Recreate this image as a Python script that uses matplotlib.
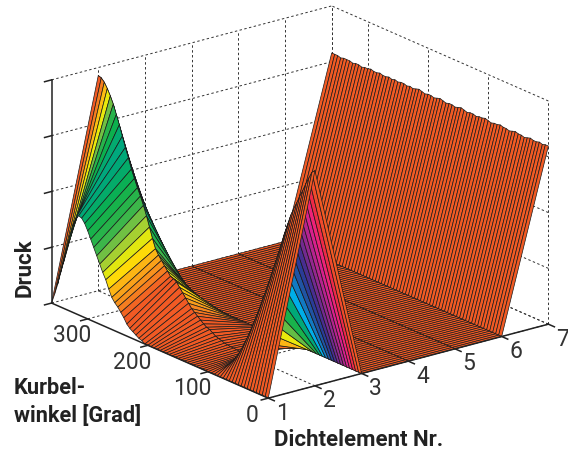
import matplotlib
matplotlib.use('Agg')
import matplotlib.pyplot as plt
from matplotlib.colors import LinearSegmentedColormap
from mpl_toolkits.mplot3d import proj3d
import numpy as np

# crank angle every 5 degrees, 0..360
angles = list(range(0, 365, 5))

# pressure at seal element 1
p1 = [0]*42 + [2, 3, 5, 7, 9, 12, 17, 21, 25, 28, 32, 39, 47, 53, 60, 67, 74, 81, 88, 94,
               98, 99, 95, 86, 74, 60, 46, 34, 21, 10, 0]

# pressure at seal element 2
p2 = [215, 212, 205, 198, 190, 183, 175, 168, 160, 150, 140, 128, 114, 98, 80, 62, 46, 32, 19, 12,
      8, 5, 3, 2, 1.5, 1.5, 1.5, 2, 2, 2.5, 3, 4, 5, 6, 8, 10, 11, 13, 15.5, 18,
      20.5, 23, 27, 31, 35, 39, 43, 45, 46, 50, 54, 58, 62, 67, 76, 86, 96, 105, 113, 120,
      128, 136, 146, 155, 165, 175, 184, 193, 200, 206, 211, 214, 215]

# pressure at seal element 7 (nearly constant)
p7 = [178, 178, 177, 178, 177, 177, 178, 177, 176, 177, 177, 178, 177, 176, 177, 177, 178, 177, 177, 176,
      177, 178, 177, 177, 176, 177, 177, 176, 177, 178, 177, 176, 177, 177, 176, 177, 178, 177, 176, 177,
      177, 176, 177, 178, 177, 176, 177, 176, 177, 177, 176, 177, 176, 177, 176, 176, 177, 176, 176, 177,
      176, 176, 175, 176, 176, 175, 176, 176, 176, 175, 176, 176, 176]
zero = [0]*73

elements = [1, 2, 3, 4, 5, 6, 7]
x_ticks = [1, 2, 3, 4, 5, 6, 7]
y_ticks = [0, 100, 200, 300]
z_ticks = [0, 55.75, 111.5, 167.25, 223]
x_labels = ['1', '2', '3', '4', '5', '6', '7']
y_labels = ['0', '100', '200', '300']

stops = [0, 15, 25, 33, 43, 56, 67, 85, 98, 115, 135, 155, 175, 195, 208, 215]
palette = ['#F15A24', '#F15A24', '#F7941D', '#FDB913', '#FFF200', '#8DC63F', '#39B54A', '#0DB14B', '#00A878',
           '#00AEEF', '#1C5FAA', '#2E3192', '#92278F', '#EC1E8C', '#EF2D3A', '#F15A24']

plt.rcParams['font.family'] = ['Roboto', 'DejaVu Sans']

ymax = 360
zmax = 223

fig = plt.figure(figsize=(5.68, 4.6), dpi=100)
ax = fig.add_subplot(projection='3d', computed_zorder=False, proj_type='ortho')
ax.set_position([8.3/568, -34.7/460, 1.0, 568/460])
ax.view_init(elev=19.9, azim=-127.8)
ax.set_box_aspect((354, 353, 237), zoom=0.947)
ax.set_xlim(1, 7)
ax.set_ylim(0, ymax)
ax.set_zlim(0, zmax)
ax.set_axis_off()

def floor_label(x, y, s):
    # tick label placed on the floor plane, drawn as plain 2D text
    xp, yp, _ = proj3d.proj_transform(x, y, 0, ax.get_proj())
    ax.text2D(xp, yp, s, transform=ax.transData, fontsize=16.5, color='#333333',
              ha='center', va='center', zorder=4)

# dashed box and grid
dash = dict(color='#333333', lw=0.7, ls=(0, (2.5, 2.5)), zorder=1)
for x in x_ticks[1:]:
    ax.plot([x, x], [ymax, ymax], [0, zmax], **dash)
    ax.plot([x, x], [0, ymax], [0, 0], **dash)
for z in z_ticks:
    ax.plot([1, 7], [ymax, ymax], [z, z], **dash)
    ax.plot([7, 7], [0, ymax], [z, z], **dash)
for y in y_ticks:
    ax.plot([7, 7], [y, y], [0, zmax], **dash)
    ax.plot([1, 7], [y, y], [0, 0], **dash)
ax.plot([7, 7], [ymax, ymax], [0, zmax], **dash)

# surface, facets coloured by the pressure at their lower corner
Z = np.array([p1, p2, zero, zero, zero, zero, p7]).T
X, Y = np.meshgrid(elements, angles)
cmap = LinearSegmentedColormap.from_list('druck', [(s/stops[-1], c) for s, c in zip(stops, palette)])
surf = ax.plot_surface(X, Y, Z, rstride=1, cstride=1, facecolors=cmap(Z/stops[-1]), shade=False, zorder=2)
surf.set_edgecolor('#1a1a1a')
surf.set_linewidth(0.5)

# solid axes and ticks
solid = dict(color='#222222', lw=1.1, zorder=3)
ax.plot([1, 7], [0, 0], [0, 0], **solid)
ax.plot([1, 1], [0, ymax], [0, 0], **solid)
ax.plot([1, 1], [ymax, ymax], [0, zmax], **solid)
for x, s in zip(x_ticks, x_labels):
    ax.plot([x, x], [0, -10], [0, 0], **solid)
    floor_label(x-0.24, -42, s)
for y, s in zip(y_ticks, y_labels):
    ax.plot([1, 0.85], [y, y], [0, 0], **solid)
    floor_label(1-0.70, y-28, s)
for z in z_ticks:
    ax.plot([1, 0.85], [ymax, ymax], [z, z], **solid)

fig.text(14/568, 1-402/460, 'Kurbel-\nwinkel [Grad]', fontsize=15.7, fontweight='semibold', color='#222222',
         ha='left', va='center', linespacing=1.3)
fig.text(359/568, 1-440/460, 'Dichtelement Nr.', fontsize=16, fontweight='semibold', color='#222222',
         ha='center', va='center')
fig.text(25/568, 1-268/460, 'Druck', fontsize=16, fontweight='semibold', color='#222222', rotation=90,
         ha='center', va='center')

fig.savefig('out.png', dpi=100)
